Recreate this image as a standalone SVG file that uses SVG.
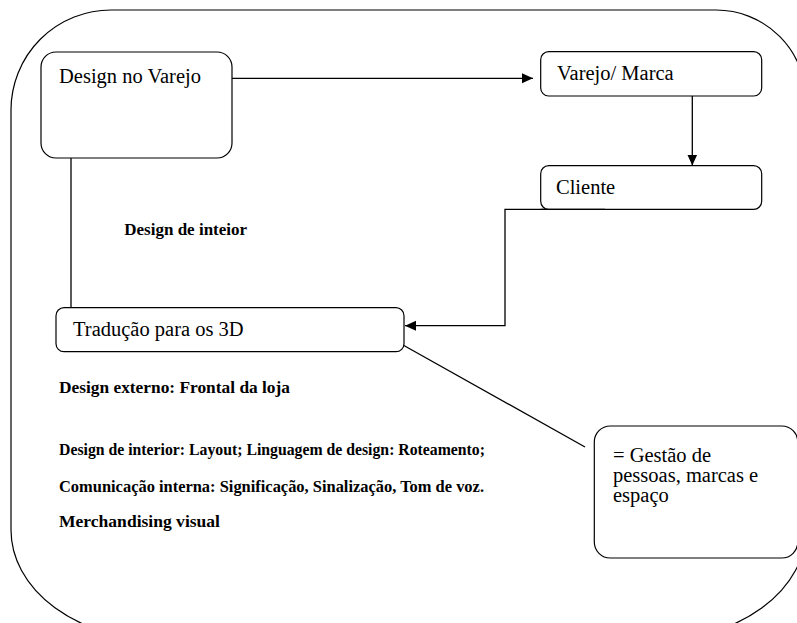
<svg xmlns="http://www.w3.org/2000/svg" width="797" height="623" viewBox="0 0 797 623">
<style>
.box{fill:#fff;stroke:#000;stroke-width:1.2}
.frame{fill:none;stroke:#000;stroke-width:1.2}
.conn{fill:none;stroke:#000;stroke-width:1.3}
.t{font-size:20.5px;fill:#000}
.b{font-size:17px;font-weight:bold;fill:#000}
</style>
<defs>
<marker id="arr" markerUnits="userSpaceOnUse" markerWidth="12" markerHeight="12" viewBox="0 0 12 12" refX="11" refY="6" orient="auto">
<path d="M0,1 L11,6 L0,11 Z" fill="#000"/>
</marker>
</defs>
<rect width="797" height="623" fill="#fff"/>
<g id="frame">
<path class="frame" d="M111,10 H716 A90 90 0 0 1 806,100 V530 A150 110 0 0 1 656,640 H161 A150 110 0 0 1 11,530 V110 A100 100 0 0 1 111,10 Z"/>
</g>
<g id="connectors">
<path class="conn" d="M232,78.3 H533" marker-end="url(#arr)"/>
<path class="conn" d="M692.3,96 V165.5" marker-end="url(#arr)"/>
<path class="conn" d="M605,209.3 H505 V325.7 H405" marker-end="url(#arr)"/>
<path class="conn" d="M71,158 V308"/>
<path class="conn" d="M403,345 L585,447"/>
</g>
<g font-family="'Liberation Serif', 'DejaVu Serif', serif">
<g id="design-no-varejo">
<rect class="box" x="41" y="52" width="191" height="106" rx="15"/>
<text class="t" x="59" y="83">Design no Varejo</text>
</g>
<g id="varejo-marca">
<rect class="box" x="540.7" y="51.7" width="221" height="44.3" rx="8"/>
<text class="t" x="557" y="80">Varejo/ Marca</text>
</g>
<g id="cliente">
<rect class="box" x="540.7" y="165.7" width="221" height="43.6" rx="8"/>
<text class="t" x="556" y="194">Cliente</text>
</g>
<path class="conn" d="M605,209.3 H540.7"/>
<g id="traducao">
<rect class="box" x="56" y="307.7" width="348" height="44" rx="8"/>
<text class="t" x="73" y="336">Tradução para os 3D</text>
</g>
<g id="gestao">
<rect class="box" x="594.3" y="426" width="203.5" height="132" rx="16"/>
<text class="t" x="613" y="461.7">= Gestão de</text>
<text class="t" x="613" y="481.7">pessoas, marcas e</text>
<text class="t" x="613" y="501.7">espaço</text>
</g>
<g id="labels">
<text class="b" x="124.3" y="235">Design de inteior</text>
<text class="b" x="59" y="393.3" textLength="231" lengthAdjust="spacingAndGlyphs">Design externo: Frontal da loja</text>
<text class="b" x="59" y="455" textLength="426" lengthAdjust="spacingAndGlyphs">Design de interior: Layout; Linguagem de design: Roteamento;</text>
<text class="b" x="59" y="491.7" textLength="425" lengthAdjust="spacingAndGlyphs">Comunicação interna: Significação, Sinalização, Tom de voz.</text>
<text class="b" x="59" y="526.7" textLength="161" lengthAdjust="spacingAndGlyphs">Merchandising visual</text>
</g>
</g>
</svg>
